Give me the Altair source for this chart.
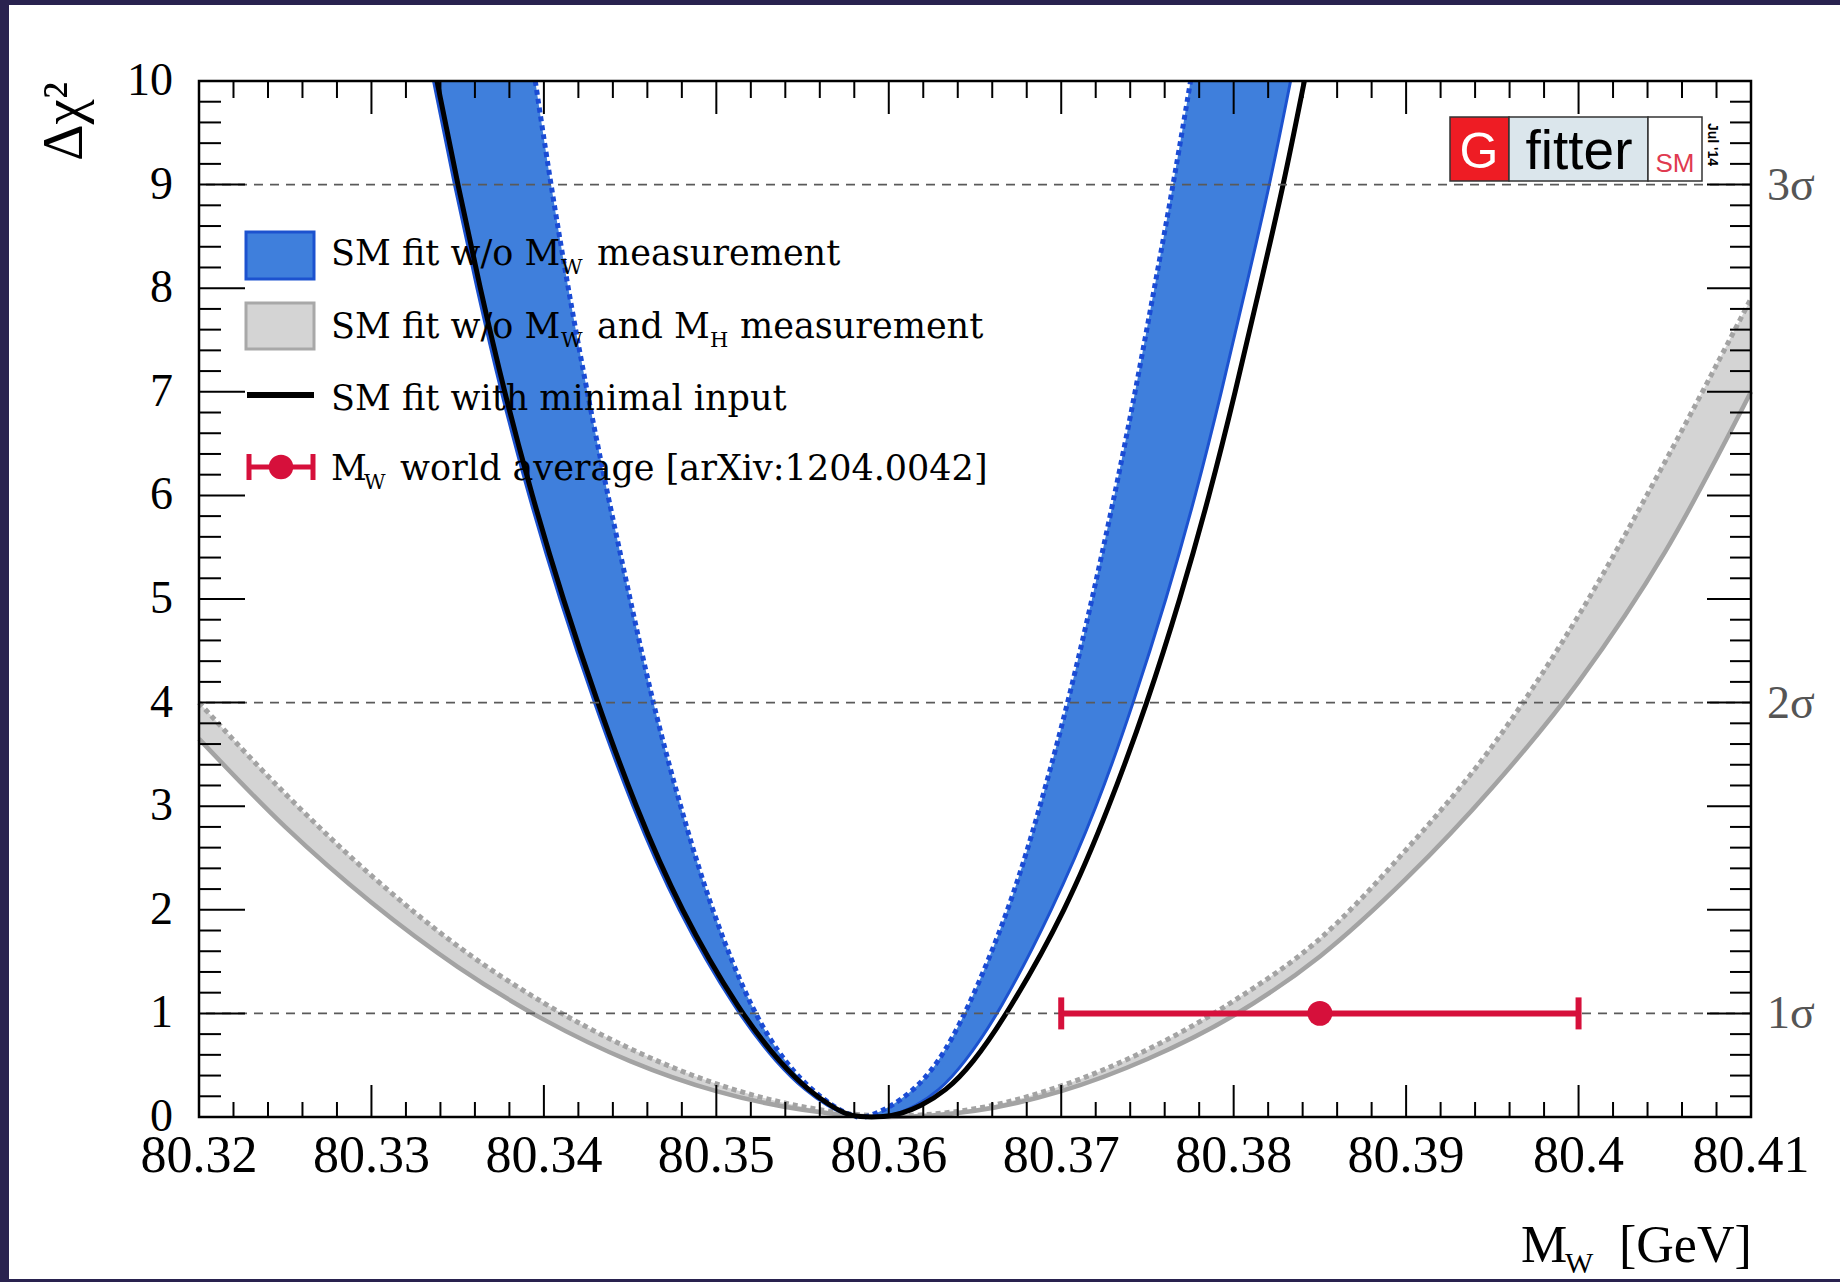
import altair as alt
import pandas as pd

# ---------------- values ----------------
X_TICKS = [80.32, 80.33, 80.34, 80.35, 80.36, 80.37, 80.38, 80.39, 80.40, 80.41]
X_TICK_LABELS = ["80.32", "80.33", "80.34", "80.35", "80.36", "80.37", "80.38",
                 "80.39", "80.4", "80.41"]
Y_TICKS = [0, 1, 2, 3, 4, 5, 6, 7, 8, 9, 10]
Y_TICK_LABELS = ["0", "1", "2", "3", "4", "5", "6", "7", "8", "9", "10"]
SIGMA_LEVELS = [1, 4, 9]
SIGMA_LABELS = ["1σ", "2σ", "3σ"]

# SM fit w/o MW measurement (blue band), x positions read at these delta-chi2 levels
BLUE_CHI2 = [0, 0.03, 0.1, 0.25, 0.5, 1, 2, 3, 4, 5, 6, 7, 8, 9, 10]
BLUE_LEFT_OUTER = [80.3581, 80.3574, 80.3565, 80.3552, 80.3536, 80.3512, 80.3477, 80.3451,
                   80.3429, 80.3409, 80.3391, 80.3375, 80.3361, 80.3348, 80.3336]
BLUE_LEFT_INNER = [80.3582, 80.3576, 80.3568, 80.3556, 80.3541, 80.3521, 80.3497, 80.3479,
                   80.3463, 80.3450, 80.3437, 80.3425, 80.3414, 80.3404, 80.3395]
BLUE_RIGHT_INNER = [80.3586, 80.3592, 80.3601, 80.3614, 80.3628, 80.3645, 80.3670, 80.3688,
                    80.3704, 80.3718, 80.3731, 80.3743, 80.3754, 80.3765, 80.3775]
BLUE_RIGHT_OUTER = [80.3597, 80.3605, 80.3615, 80.3629, 80.3643, 80.3664, 80.3695, 80.3721,
                    80.3742, 80.3761, 80.3778, 80.3793, 80.3807, 80.3821, 80.3833]
# SM fit with minimal input (black line)
BLACK_LEFT = [80.3582, 80.3575, 80.3567, 80.3554, 80.3538, 80.3514, 80.3479, 80.3453,
              80.3431, 80.3411, 80.3393, 80.3377, 80.3363, 80.3350, 80.3338]
BLACK_RIGHT = [80.3598, 80.3607, 80.3618, 80.3633, 80.3648, 80.3669, 80.3703, 80.3728,
               80.3750, 80.3769, 80.3786, 80.3801, 80.3815, 80.3829, 80.3841]

# SM fit w/o MW and MH measurement (grey band)
GRAY_MW = [80.320, 80.325, 80.330, 80.335, 80.340, 80.345, 80.350, 80.355, 80.360,
           80.365, 80.370, 80.375, 80.380, 80.385, 80.390, 80.395, 80.400, 80.405, 80.410]
GRAY_LO = [3.65, 2.80, 2.07, 1.45, 0.94, 0.54, 0.25, 0.07, 0.00,
           0.06, 0.25, 0.56, 0.98, 1.55, 2.30, 3.18, 4.20, 5.45, 7.00]
GRAY_HI = [4.00, 3.12, 2.33, 1.65, 1.10, 0.66, 0.32, 0.10, 0.01,
           0.08, 0.30, 0.65, 1.12, 1.72, 2.58, 3.58, 4.84, 6.32, 7.90]

# MW world average
WA_MW = [80.385]
WA_ERR = [0.015]
WA_CHI2 = [1.0]

# legend text pieces: (text, is_subscript, left x in plot pixels)
LEGEND_ROWS = [
    [("SM fit w/o M", 0, 132), ("W", 1, 362), ("measurement", 0, 398)],
    [("SM fit w/o M", 0, 132), ("W", 1, 362), ("and M", 0, 398), ("H", 1, 511),
     ("measurement", 0, 541)],
    [("SM fit with minimal input", 0, 132)],
    [("M", 0, 132), ("W", 1, 165), ("world average [arXiv:1204.0042]", 0, 201)],
]

# ---------------- styling / layout ----------------
W, H = 1552, 1036
PAD = {"left": 199, "top": 81, "right": 89, "bottom": 165}
NAVY = "#29224f"
BLUE_FILL = "#3f7fdc"
BLUE_EDGE = "#1c52cf"
BLUE_DOT = "#1a4bd4"
GRAY_FILL = "#d4d4d4"
GRAY_EDGE = "#a3a3a3"
RED = "#d6103b"
SERIF = "Liberation Serif"
LEGFONT = "DejaVu Serif"
SANS = "Liberation Sans"

XS = alt.Scale(domain=[80.32, 80.41], nice=False, zero=False)
YS = alt.Scale(domain=[0, 10], nice=False, zero=False)
ONE = pd.DataFrame({"k": [0]})


def X(field, **kw):
    return alt.X(field, scale=XS, axis=None, **kw)


def Y(field, **kw):
    return alt.Y(field, scale=YS, axis=None, **kw)


def txt(s, x, y, size, font=SERIF, color="black", align="left",
        baseline="alphabetic", angle=0, weight="normal"):
    return alt.Chart(ONE).mark_text(
        align=align, baseline=baseline, font=font, fontSize=size,
        color=color, angle=angle, fontWeight=weight
    ).encode(x=alt.value(x), y=alt.value(y), text=alt.value(s))


def box(x1, x2, y1, y2, fill, stroke=None, sw=0):
    kw = {"fill": fill}
    if stroke:
        kw.update(stroke=stroke, strokeWidth=sw)
    return alt.Chart(ONE).mark_rect(**kw).encode(
        x=alt.value(x1), x2=alt.value(x2), y=alt.value(y1), y2=alt.value(y2))


layers = []

# white page panel inside the dark border
layers.append(box(-PAD["left"] + 9, W + PAD["right"], -PAD["top"] + 5,
                  H + PAD["bottom"] - 3, "white"))

# ---- grey band ----
gray = pd.DataFrame({"mw": GRAY_MW, "lo": GRAY_LO, "hi": GRAY_HI})
layers.append(alt.Chart(gray).mark_area(color=GRAY_FILL, interpolate="monotone").encode(
    x=X("mw:Q"), y=Y("lo:Q"), y2="hi:Q"))
layers.append(alt.Chart(gray).mark_line(color=GRAY_EDGE, strokeWidth=4.5,
                                        interpolate="monotone").encode(
    x=X("mw:Q"), y=Y("lo:Q")))
layers.append(alt.Chart(gray).mark_line(color=GRAY_EDGE, strokeWidth=5, strokeDash=[5, 4],
                                        interpolate="monotone").encode(
    x=X("mw:Q"), y=Y("hi:Q")))

# ---- blue band ----
blue_l = pd.DataFrame({"chi2": BLUE_CHI2, "a": BLUE_LEFT_OUTER, "b": BLUE_LEFT_INNER})
blue_r = pd.DataFrame({"chi2": BLUE_CHI2, "a": BLUE_RIGHT_INNER, "b": BLUE_RIGHT_OUTER})
for df in (blue_l, blue_r):
    layers.append(alt.Chart(df).mark_area(color=BLUE_FILL, orient="horizontal",
                                          interpolate="basis").encode(
        y=Y("chi2:Q"), x=X("a:Q"), x2="b:Q"))


def curve(xs, ys, color, width, dashed=False):
    df = pd.DataFrame({"mw": xs, "chi2": ys})
    kw = {"strokeDash": [5, 4]} if dashed else {}
    return alt.Chart(df).mark_line(color=color, strokeWidth=width,
                                   interpolate="basis", **kw).encode(
        x=X("mw:Q"), y=Y("chi2:Q"), order="mw:Q")


layers.append(curve(BLUE_LEFT_OUTER, BLUE_CHI2, BLUE_EDGE, 3))
layers.append(curve(BLUE_RIGHT_OUTER, BLUE_CHI2, BLUE_EDGE, 3))
layers.append(curve(BLUE_LEFT_INNER, BLUE_CHI2, BLUE_DOT, 5, dashed=True))
layers.append(curve(BLUE_RIGHT_INNER, BLUE_CHI2, BLUE_DOT, 5, dashed=True))

# ---- black line (left branch, flat bottom, right branch) ----
layers.append(curve(BLACK_LEFT + BLACK_RIGHT, BLUE_CHI2 + BLUE_CHI2, "black", 5))

# ---- sigma dashed lines and labels ----
sig = pd.DataFrame({"chi2": SIGMA_LEVELS, "lab": SIGMA_LABELS})
layers.append(alt.Chart(sig).mark_rule(color="#5a5a5a", strokeWidth=1.6,
                                       strokeDash=[9, 7]).encode(y=Y("chi2:Q")))
layers.append(alt.Chart(sig).mark_text(align="left", baseline="alphabetic", dy=15,
                                       font=SERIF, fontSize=46, color="#555555").encode(
    y=Y("chi2:Q"), x=alt.value(W + 16), text="lab:N"))

# ---- world average ----
wa = pd.DataFrame({"mw": WA_MW, "lo": [m - e for m, e in zip(WA_MW, WA_ERR)],
                   "hi": [m + e for m, e in zip(WA_MW, WA_ERR)], "chi2": WA_CHI2})
layers.append(alt.Chart(wa).mark_rule(color=RED, strokeWidth=6).encode(
    x=X("lo:Q"), x2="hi:Q", y=Y("chi2:Q")))
for f in ("lo", "hi"):
    layers.append(alt.Chart(wa).mark_tick(color=RED, orient="vertical", size=32,
                                          thickness=6, opacity=1).encode(
        x=X(f + ":Q"), y=Y("chi2:Q")))
layers.append(alt.Chart(wa).mark_circle(color=RED, size=620, opacity=1).encode(
    x=X("mw:Q"), y=Y("chi2:Q")))

# ---- frame and inward ticks ----
layers.append(alt.Chart(ONE).mark_rect(fill=None, stroke="black", strokeWidth=2.5).encode(
    x=alt.value(0), x2=alt.value(W), y=alt.value(0), y2=alt.value(H)))

x_minor = [round(X_TICKS[0] + 0.002 * i, 4) for i in range(46) if i % 5]
y_minor = [round(0.2 * i, 2) for i in range(51) if i % 5]


def xticks(vals, y1, y2):
    return alt.Chart(pd.DataFrame({"v": vals})).mark_rule(color="black", strokeWidth=2).encode(
        x=X("v:Q"), y=alt.value(y1), y2=alt.value(y2))


def yticks(vals, x1, x2):
    return alt.Chart(pd.DataFrame({"v": vals})).mark_rule(color="black", strokeWidth=2).encode(
        y=Y("v:Q"), x=alt.value(x1), x2=alt.value(x2))


layers += [xticks(X_TICKS, H, H - 32), xticks(x_minor, H, H - 15),
           xticks(X_TICKS, 0, 33), xticks(x_minor, 0, 17),
           yticks(Y_TICKS, 0, 46), yticks(y_minor, 0, 22),
           yticks(Y_TICKS, W, W - 44), yticks(y_minor, W, W - 21)]

# ---- tick labels ----
xl = pd.DataFrame({"v": X_TICKS, "lab": X_TICK_LABELS})
layers.append(alt.Chart(xl).mark_text(align="center", baseline="alphabetic", font=SERIF,
                                      fontSize=52, color="black").encode(
    x=X("v:Q"), y=alt.value(H + 55), text="lab:N"))
yl = pd.DataFrame({"v": Y_TICKS, "lab": Y_TICK_LABELS})
layers.append(alt.Chart(yl).mark_text(align="right", baseline="alphabetic", dy=14,
                                      font=SERIF, fontSize=46, color="black").encode(
    y=Y("v:Q"), x=alt.value(-26), text="lab:N"))

# ---- legend ----
layers.append(box(47, 115, 151, 198, BLUE_FILL, BLUE_EDGE, 3))
layers.append(box(47, 115, 222, 268, GRAY_FILL, "#a8a8a8", 3))
layers.append(alt.Chart(ONE).mark_rule(color="black", strokeWidth=6).encode(
    x=alt.value(48), x2=alt.value(115), y=alt.value(314)))
layers.append(alt.Chart(ONE).mark_rule(color=RED, strokeWidth=5).encode(
    x=alt.value(49), x2=alt.value(115), y=alt.value(386)))
for cx in (50, 114):
    layers.append(alt.Chart(ONE).mark_rule(color=RED, strokeWidth=5).encode(
        x=alt.value(cx), y=alt.value(373), y2=alt.value(399)))
layers.append(alt.Chart(ONE).mark_circle(color=RED, size=600, opacity=1).encode(
    x=alt.value(82), y=alt.value(386)))

row_base = [184, 257, 329, 399]
for parts, yb in zip(LEGEND_ROWS, row_base):
    for s, is_sub, xpos in parts:
        if is_sub:
            layers.append(txt(s, xpos, yb + 9, 21, font=LEGFONT))
        else:
            layers.append(txt(s, xpos, yb, 35, font=LEGFONT))

# ---- axis titles ----
layers.append(txt("Δχ²", -117, 1, 57, angle=270, align="right"))
layers.append(txt("M", 1322, 1181, 52))
layers.append(txt("W", 1366, 1192, 30))
layers.append(txt("[GeV]", 1420, 1181, 52))

# ---- Gfitter logo ----
layers.append(box(1251, 1310, 36, 100, "#ee1c24", "#333333", 1.5))
layers.append(box(1310, 1449, 36, 100, "#dbe6ec", "#333333", 1.5))
layers.append(box(1449, 1503, 36, 100, "white", "#333333", 1.5))
layers.append(txt("G", 1280, 87, 50, font=SANS, color="white", align="center"))
layers.append(txt("fitter", 1380, 88, 55, font=SANS, align="center"))
layers.append(txt("SM", 1476, 91, 26, font=SANS, color="#e03a50", align="center"))
layers.append(txt("Jul '14", 1509, 42, 14, font=SANS, angle=90, weight="bold"))

chart = alt.layer(*layers).properties(
    width=W, height=H, padding=PAD, autosize=alt.AutoSizeParams(type="none"),
    background=NAVY
).configure_view(stroke=None)

chart.save("out.html", embed_options={"renderer": "svg", "actions": False})
